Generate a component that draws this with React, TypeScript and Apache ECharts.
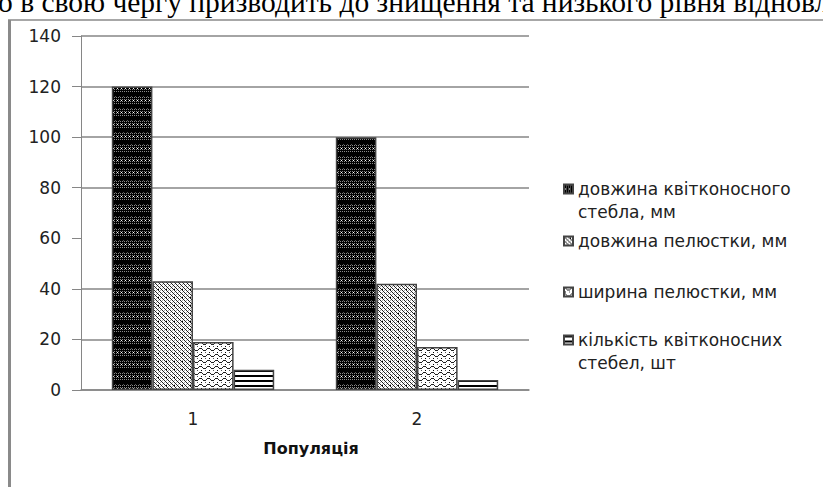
import React, { useEffect, useRef } from "react";
import * as echarts from "echarts";

const categories = ["1", "2"];
const seriesNames = [
  "довжина квітконосного стебла, мм",
  "довжина пелюстки, мм",
  "ширина пелюстки, мм",
  "кількість квітконосних стебел, шт",
];
const legendLabels = [
  "довжина квітконосного\nстебла, мм",
  "довжина пелюстки, мм",
  "ширина пелюстки, мм",
  "кількість квітконосних\nстебел, шт",
];
const stemLength = [120, 100];
const petalLength = [43, 42];
const petalWidth = [19, 17];
const stemCount = [8, 4];
const yMin = 0;
const yMax = 140;
const yInterval = 20;
const xAxisTitle = "Популяція";
const headerText = "о в свою чергу призводить до знищення та низького рівня відновл";

function makeTile(w: number, h: number, draw: (ctx: CanvasRenderingContext2D) => void) {
  const c = document.createElement("canvas");
  c.width = w;
  c.height = h;
  const ctx = c.getContext("2d")!;
  draw(ctx);
  return { image: c, repeat: "repeat", imageWidth: w, imageHeight: h } as any;
}
function px(ctx: CanvasRenderingContext2D, x: number, y: number, col: string) {
  ctx.fillStyle = col;
  ctx.fillRect(x, y, 1, 1);
}

function darkPattern() {
  return makeTile(4, 12, (ctx) => {
    ctx.fillStyle = "#000";
    ctx.fillRect(0, 0, 4, 12);
    for (let y = 0; y < 9; y++) {
      for (let x = 0; x < 4; x++) {
        if (y % 2 === 1 && x % 2 === 0) px(ctx, x, y, "#8a8a8a");
        if (y === 4 && x === 1) px(ctx, x, y, "#ffffff");
        if (y === 0 && x === 3) px(ctx, x, y, "#555");
      }
    }
  });
}
function diagPattern() {
  return makeTile(8, 8, (ctx) => {
    ctx.fillStyle = "#fff";
    ctx.fillRect(0, 0, 8, 8);
    for (let y = 0; y < 8; y++) {
      for (let x = 0; x < 8; x++) {
        const d = (x - y + 16) % 4;
        if (d === 0) px(ctx, x, y, "#222");
        else if (d === 2 && (x + y) % 4 === 2) px(ctx, x, y, "#a8a8a8");
      }
    }
    px(ctx, 6, 1, "#000");
  });
}
function wavePattern() {
  return makeTile(8, 6, (ctx) => {
    ctx.fillStyle = "#fff";
    ctx.fillRect(0, 0, 8, 6);
    const wave = [0, 0, 1, 2, 2, 2, 1, 0];
    for (let x = 0; x < 8; x++) px(ctx, x, wave[x], "#222");
    px(ctx, 1, 4, "#000");
    px(ctx, 5, 4, "#555");
  });
}
function stripePattern() {
  return makeTile(4, 5, (ctx) => {
    ctx.fillStyle = "#fff";
    ctx.fillRect(0, 0, 4, 5);
    ctx.fillStyle = "#000";
    ctx.fillRect(0, 0, 4, 2);
  });
}

export default function App() {
  const ref = useRef<HTMLDivElement>(null);
  useEffect(() => {
    if (!ref.current) return;
    const chart = echarts.init(ref.current, undefined, { renderer: "svg" });
    const fills = [darkPattern(), diagPattern(), wavePattern(), stripePattern()];
    const values = [stemLength, petalLength, petalWidth, stemCount];
    const font = '"DejaVu Sans", sans-serif';
    const legendTops = [154.5, 229.5, 280.5, 305.5];
    const legends = seriesNames.map((name, i) => ({
      data: [name],
      left: 563,
      top: legendTops[i],
      orient: "vertical",
      padding: 0,
      icon: "rect",
      itemWidth: 9,
      itemHeight: 9,
      itemGap: 0,
      selectedMode: false,
      formatter: () => (legendLabels[i].includes("\n") ? "\n" + legendLabels[i] : legendLabels[i]),
      textStyle: {
        fontFamily: font,
        fontSize: 17,
        color: "#222",
        lineHeight: 23,
      },
    }));
    chart.setOption({
      animation: false,
      backgroundColor: "#fff",
      grid: { left: 81, right: 294, top: 36, bottom: 97, containLabel: false },
      legend: legends,
      xAxis: {
        type: "category",
        data: categories,
        axisTick: { show: false },
        axisLine: { lineStyle: { color: "#868686", width: 1.5 } },
        axisLabel: { fontFamily: font, fontSize: 17, color: "#222", margin: 20 },
        name: xAxisTitle,
        nameLocation: "middle",
        nameGap: 50,
        nameTextStyle: {
          fontFamily: font,
          fontSize: 16,
          fontWeight: "bold",
          color: "#111",
          padding: [0, 0, 0, 12],
        },
      },
      yAxis: {
        type: "value",
        min: yMin,
        max: yMax,
        interval: yInterval,
        axisLine: { show: true, lineStyle: { color: "#868686", width: 1 } },
        axisTick: { show: true, length: 9, lineStyle: { color: "#868686" } },
        axisLabel: { fontFamily: font, fontSize: 17, color: "#222", margin: 20 },
        splitLine: {
          show: true,
          lineStyle: {
            color: ["#868686", "#868686", "#868686", "rgba(0,0,0,0)", "#868686", "#868686", "#868686", "#868686"],
            width: 1.5,
          },
        },
      },
      series: seriesNames.map((name, i) => ({
        name,
        type: "bar",
        data: values[i],
        barGap: "0%",
        barCategoryGap: "27.5%",
        itemStyle: { color: fills[i], borderColor: "#444", borderWidth: 1.5 },
      })),
      graphic: [
        {
          type: "text",
          x: -2,
          y: 16.5,
          style: {
            text: headerText,
            font: '29.5px "Liberation Serif", serif',
            fill: "#000",
            verticalAlign: "bottom",
          },
        },
        { type: "line", shape: { x1: 9.5, y1: 20, x2: 9.5, y2: 487 }, style: { stroke: "#8a8a8a", lineWidth: 3 } },
        { type: "line", shape: { x1: 8, y1: 20, x2: 823, y2: 20 }, style: { stroke: "#8a8a8a", lineWidth: 1.5 } },
      ],
    });
    return () => chart.dispose();
  }, []);
  return (
    <div
      ref={ref}
      style={{ position: "fixed", left: 0, top: 0, width: 823, height: 487, background: "#fff" }}
    />
  );
}
